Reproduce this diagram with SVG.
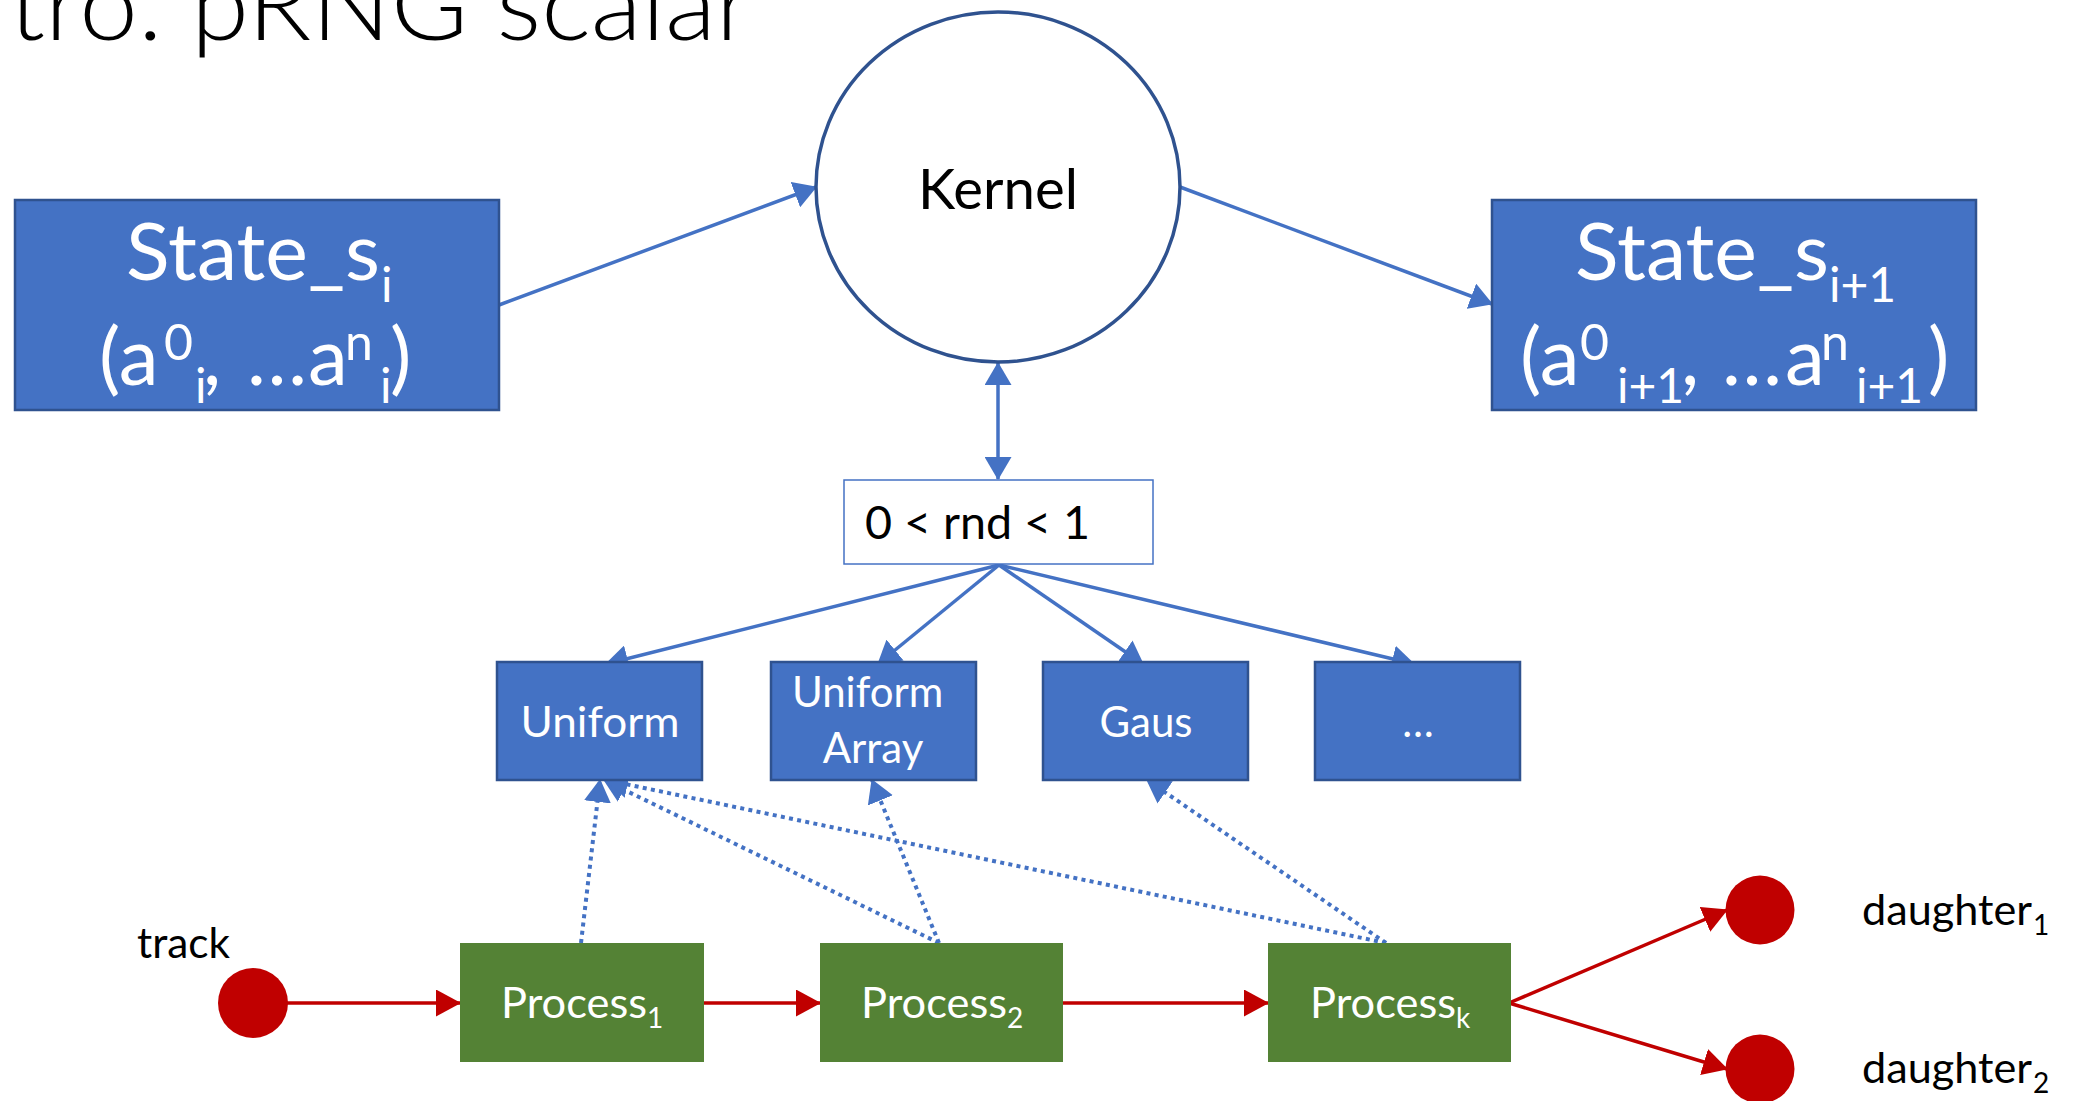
<svg xmlns="http://www.w3.org/2000/svg" width="2077" height="1101" viewBox="0 0 2077 1101">
  <style>
    text { font-family: Lato, "Open Sans", "Liberation Sans", sans-serif; }
    .node-blue { fill: #4472C4; stroke: #2F528F; stroke-width: 2.5; }
    .node-green { fill: #548235; }
    .dot-red { fill: #C00000; }
    .wt { fill: #FFFFFF; }
    .bk { fill: #000000; }
    .conn { fill: none; stroke: #4472C4; stroke-width: 3.5; }
    .dotted { fill: none; stroke: #4472C4; stroke-width: 4; stroke-dasharray: 4 4.3; }
    .flow { fill: none; stroke: #C00000; stroke-width: 3.5; }
  </style>
  <defs>
    <marker id="head-blue" viewBox="0 0 23 27" refX="22" refY="13.5" markerWidth="23" markerHeight="27" markerUnits="userSpaceOnUse" orient="auto-start-reverse">
      <path d="M0,0 L23,13.5 L0,27 z" fill="#4472C4"/>
    </marker>
    <marker id="head-red" viewBox="0 0 25 27" refX="24" refY="13.5" markerWidth="25" markerHeight="27" markerUnits="userSpaceOnUse" orient="auto">
      <path d="M0,0 L25,13.5 L0,27 z" fill="#C00000"/>
    </marker>
  </defs>

  <rect width="2077" height="1101" fill="#FFFFFF"/>

  <!-- slide title, partly above the visible area -->
  <text x="9" y="40" font-size="100" font-weight="300" textLength="744" lengthAdjust="spacingAndGlyphs" class="bk">tro. pRNG scalar</text>

  <!-- connectors (drawn first so box edges overlap the arrow tips) -->
  <g id="connectors">
    <line class="conn" x1="499" y1="305" x2="816" y2="187" marker-end="url(#head-blue)"/>
    <line class="conn" x1="1180" y1="187" x2="1492" y2="304" marker-end="url(#head-blue)"/>
    <line class="conn" x1="998" y1="363" x2="998" y2="479" marker-start="url(#head-blue)" marker-end="url(#head-blue)"/>

    <line class="conn" x1="999" y1="565" x2="606" y2="664" marker-end="url(#head-blue)"/>
    <line class="conn" x1="999" y1="565" x2="878" y2="664" marker-end="url(#head-blue)"/>
    <line class="conn" x1="999" y1="565" x2="1143" y2="664" marker-end="url(#head-blue)"/>
    <line class="conn" x1="999" y1="565" x2="1414" y2="664" marker-end="url(#head-blue)"/>

    <line class="dotted" x1="581" y1="943" x2="600" y2="780" marker-end="url(#head-blue)"/>
    <line class="dotted" x1="939" y1="943" x2="604" y2="780" marker-end="url(#head-blue)"/>
    <line class="dotted" x1="939" y1="943" x2="872" y2="780" marker-end="url(#head-blue)"/>
    <line class="dotted" x1="1386" y1="943" x2="606" y2="780" marker-end="url(#head-blue)"/>
    <line class="dotted" x1="1386" y1="943" x2="1147" y2="780" marker-end="url(#head-blue)"/>

    <line class="flow" x1="286" y1="1003" x2="460" y2="1003" marker-end="url(#head-red)"/>
    <line class="flow" x1="704" y1="1003" x2="820" y2="1003" marker-end="url(#head-red)"/>
    <line class="flow" x1="1063" y1="1003" x2="1268" y2="1003" marker-end="url(#head-red)"/>
    <line class="flow" x1="1509" y1="1003" x2="1727" y2="910" marker-end="url(#head-red)"/>
    <line class="flow" x1="1509" y1="1003" x2="1727" y2="1069" marker-end="url(#head-red)"/>
  </g>

  <g id="state-i">
    <rect class="node-blue" x="15" y="200" width="484" height="210"/>
    <text class="wt" font-size="80">
      <tspan x="126" y="280" textLength="254" lengthAdjust="spacingAndGlyphs">State_s</tspan><tspan x="381" y="302" font-size="48">i</tspan>
      <tspan x="99" y="385">(a</tspan><tspan x="164" y="360" font-size="50">0</tspan><tspan x="195" y="403" font-size="48">i</tspan><tspan x="203" y="385">,</tspan><tspan x="247" y="385">…</tspan><tspan x="308" y="385">a</tspan><tspan x="345" y="360" font-size="50">n</tspan><tspan x="380" y="403" font-size="48">i</tspan><tspan x="390" y="385">)</tspan>
    </text>
  </g>

  <g id="kernel">
    <ellipse cx="998" cy="187" rx="182" ry="175" fill="#FFFFFF" stroke="#2F528F" stroke-width="3.5"/>
    <text class="bk" x="998" y="209" font-size="56" text-anchor="middle" textLength="160" lengthAdjust="spacingAndGlyphs">Kernel</text>
  </g>

  <g id="state-i1">
    <rect class="node-blue" x="1492" y="200" width="484" height="210"/>
    <text class="wt" font-size="80">
      <tspan x="1575" y="280" textLength="254" lengthAdjust="spacingAndGlyphs">State_s</tspan><tspan x="1829" y="302" font-size="48">i+1</tspan>
      <tspan x="1520" y="385">(a</tspan><tspan x="1580" y="360" font-size="50">0</tspan><tspan x="1617" y="403" font-size="48">i+1</tspan><tspan x="1681" y="385">,</tspan><tspan x="1722" y="385">…</tspan><tspan x="1785" y="385">a</tspan><tspan x="1821" y="360" font-size="50">n</tspan><tspan x="1856" y="403" font-size="48">i+1</tspan><tspan x="1928" y="385">)</tspan>
    </text>
  </g>

  <g id="rnd">
    <rect x="844" y="480" width="309" height="84" fill="#FFFFFF" stroke="#4472C4" stroke-width="1.5"/>
    <text class="bk" x="865" y="539" font-size="46" textLength="225" lengthAdjust="spacingAndGlyphs">0 &lt; rnd &lt; 1</text>
  </g>

  <g id="uniform">
    <rect class="node-blue" x="497" y="662" width="205" height="118"/>
    <text class="wt" x="600" y="737" font-size="42" text-anchor="middle" textLength="159" lengthAdjust="spacingAndGlyphs">Uniform</text>
  </g>

  <g id="uniform-array">
    <rect class="node-blue" x="771" y="662" width="205" height="118"/>
    <text class="wt" font-size="42" text-anchor="middle">
      <tspan x="873" y="707">Uniform</tspan>
      <tspan x="873" y="763">Array</tspan>
    </text>
  </g>

  <g id="gaus">
    <rect class="node-blue" x="1043" y="662" width="205" height="118"/>
    <text class="wt" x="1146" y="737" font-size="42" text-anchor="middle">Gaus</text>
  </g>

  <g id="more">
    <rect class="node-blue" x="1315" y="662" width="205" height="118"/>
    <text class="wt" x="1418" y="737" font-size="42" text-anchor="middle">…</text>
  </g>

  <g id="track">
    <circle class="dot-red" cx="253" cy="1003" r="35"/>
    <text class="bk" x="137" y="958" font-size="42" textLength="93" lengthAdjust="spacingAndGlyphs">track</text>
  </g>

  <g id="process-1">
    <rect class="node-green" x="460" y="943" width="244" height="119"/>
    <text class="wt" font-size="42"><tspan x="501" y="1018" textLength="146" lengthAdjust="spacingAndGlyphs">Process</tspan><tspan x="647" y="1028" font-size="28">1</tspan></text>
  </g>

  <g id="process-2">
    <rect class="node-green" x="820" y="943" width="243" height="119"/>
    <text class="wt" font-size="42"><tspan x="861" y="1018" textLength="146" lengthAdjust="spacingAndGlyphs">Process</tspan><tspan x="1007" y="1028" font-size="28">2</tspan></text>
  </g>

  <g id="process-k">
    <rect class="node-green" x="1268" y="943" width="243" height="119"/>
    <text class="wt" font-size="42"><tspan x="1310" y="1018" textLength="146" lengthAdjust="spacingAndGlyphs">Process</tspan><tspan x="1456" y="1028" font-size="28">k</tspan></text>
  </g>

  <g id="daughter-1">
    <circle class="dot-red" cx="1760" cy="910" r="34.5"/>
    <text class="bk" font-size="42"><tspan x="1862" y="925" textLength="170" lengthAdjust="spacingAndGlyphs">daughter</tspan><tspan x="2033" y="935" font-size="28">1</tspan></text>
  </g>

  <g id="daughter-2">
    <circle class="dot-red" cx="1760" cy="1069" r="34.5"/>
    <text class="bk" font-size="42"><tspan x="1862" y="1083" textLength="170" lengthAdjust="spacingAndGlyphs">daughter</tspan><tspan x="2033" y="1093" font-size="28">2</tspan></text>
  </g>
</svg>
